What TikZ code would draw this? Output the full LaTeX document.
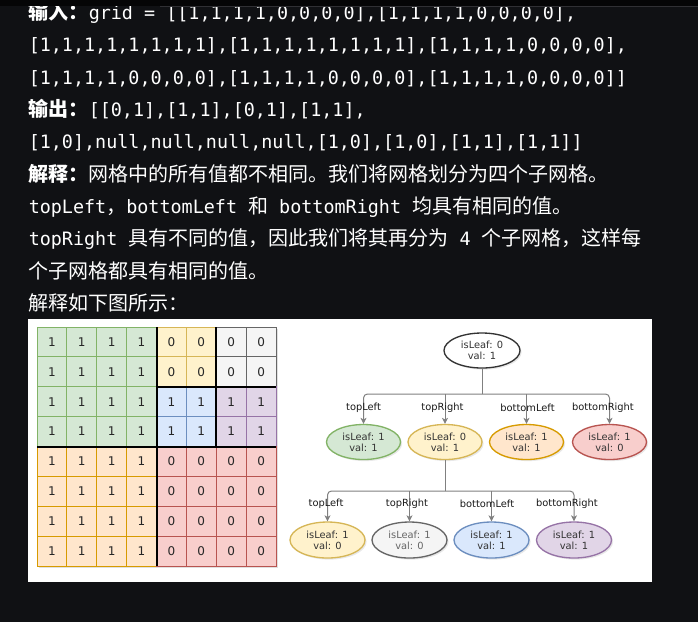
\documentclass[tikz,border=0pt]{standalone}
\usepackage{fontspec}
\setmainfont{Noto Sans CJK SC}
\setmonofont{DejaVu Sans Mono}[Scale=0.92]
\newfontfamily\treefont{DejaVu Sans}
\usetikzlibrary{shapes.geometric,arrows.meta,shadows,positioning}

\definecolor{pagebg}{RGB}{16,17,20}
\definecolor{stripbg}{RGB}{5,5,6}
\definecolor{stripline}{RGB}{48,48,52}
\definecolor{greenfill}{HTML}{D5E8D4}  \definecolor{greenline}{HTML}{82B366}
\definecolor{yellowfill}{HTML}{FFF2CC} \definecolor{yellowline}{HTML}{D6B656}
\definecolor{greyfill}{HTML}{F5F5F5}   \definecolor{greyline}{HTML}{666666}
\definecolor{bluefill}{HTML}{DAE8FC}   \definecolor{blueline}{HTML}{6C8EBF}
\definecolor{purplefill}{HTML}{E1D5E7} \definecolor{purpleline}{HTML}{9673A6}
\definecolor{orangefill}{HTML}{FFE6CC} \definecolor{orangeline}{HTML}{D79B00}
\definecolor{redfill}{HTML}{F8CECC}    \definecolor{redline}{HTML}{B85450}
\definecolor{edgegrey}{HTML}{808080}
\definecolor{nodetext}{HTML}{333333}

\tikzset{
  txtline/.style={anchor=base west, inner sep=0pt, text=white,
    font=\fontsize{15pt}{18pt}\selectfont},
  cell/.style={fill=#1fill, draw=#1line, line width=0.75pt},
  quad/.style={draw=black, line width=1.5pt},
  digit/.style={inner sep=0pt, text=black!85, font=\treefont\fontsize{9pt}{9pt}\selectfont},
  qnode/.style={ellipse, draw=#1line, fill=#1fill, line width=1pt,
    minimum width=55.5pt, minimum height=26.25pt, inner sep=0pt, align=center,
    text=nodetext, font=\treefont\fontsize{7.4pt}{8.25pt}\selectfont,
    drop shadow={shadow xshift=1.2pt, shadow yshift=-1.2pt, opacity=0.18}},
  edge/.style={draw=edgegrey, line width=0.75pt},
  arr/.style={-{Stealth[length=4.5pt, width=4.5pt, inset=1.2pt]}},
  edgelab/.style={inner sep=0pt, text=black!90, font=\treefont\fontsize{7.4pt}{7.4pt}\selectfont},
}

\begin{document}
\begin{tikzpicture}[x=0.75pt, y=-0.75pt]
\useasboundingbox (0,0) rectangle (698,622);
\fill[pagebg] (0,0) rectangle (698,622);

% text above the figure
\node[txtline] (in1) at (28.5,19.3) {{\bfseries 输入：}\texttt{grid = [[1,1,1,1,0,0,0,0],[1,1,1,1,0,0,0,0],}};
\node[txtline] (in2) at (28.5,51.65) {\texttt{[1,1,1,1,1,1,1,1],[1,1,1,1,1,1,1,1],[1,1,1,1,0,0,0,0],}};
\node[txtline] (in3) at (28.5,84) {\texttt{[1,1,1,1,0,0,0,0],[1,1,1,1,0,0,0,0],[1,1,1,1,0,0,0,0]]}};
\node[txtline] (out1) at (28.5,116.35) {{\bfseries 输出：}\texttt{[[0,1],[1,1],[0,1],[1,1],}};
\node[txtline] (out2) at (28.5,148.7) {\texttt{[1,0],null,null,null,null,[1,0],[1,0],[1,1],[1,1]]}};
\node[txtline] (ex1) at (28.5,181.05) {{\bfseries 解释：}网格中的所有值都不相同。我们将网格划分为四个子网格。};
\node[txtline] (ex2) at (28.5,213.4) {\texttt{topLeft}，\texttt{bottomLeft }和\texttt{ bottomRight }均具有相同的值。};
\node[txtline] (ex3) at (28.5,245.75) {\texttt{topRight }具有不同的值，因此我们将其再分为\texttt{ 4 }个子网格，这样每};
\node[txtline] (ex4) at (28.5,278.1) {个子网格都具有相同的值。};
\node[txtline] (ex5) at (28.5,310.45) {解释如下图所示：};

% sticky header strip
\fill[stripbg] (0,0) rectangle (698,6.3);
\draw[stripline, line width=0.75pt] (160,6) -- (698,6);

% white panel
\fill[white] (28,319) rectangle (652,582);

% the grid
\begin{scope}[shift={(37,327)}, x=22.40625pt, y=-22.40625pt]
\fill[black, opacity=0.12] (0.08,0.08) rectangle (8.08,8.08);
\foreach \c in {0,...,3} \foreach \r in {0,...,3} \draw[cell=green] (\c,\r) rectangle ++(1,1);
\foreach \c in {4,5} \foreach \r in {0,1} \draw[cell=yellow] (\c,\r) rectangle ++(1,1);
\foreach \c in {6,7} \foreach \r in {0,1} \draw[cell=grey] (\c,\r) rectangle ++(1,1);
\foreach \c in {4,5} \foreach \r in {2,3} \draw[cell=blue] (\c,\r) rectangle ++(1,1);
\foreach \c in {6,7} \foreach \r in {2,3} \draw[cell=purple] (\c,\r) rectangle ++(1,1);
\foreach \c in {0,...,3} \foreach \r in {4,...,7} \draw[cell=orange] (\c,\r) rectangle ++(1,1);
\foreach \c in {4,...,7} \foreach \r in {4,...,7} \draw[cell=red] (\c,\r) rectangle ++(1,1);
\draw[quad] (4,0) -- (4,8);
\draw[quad] (0,4) -- (8,4);
\draw[quad] (4,2) -- (8,2);
\draw[quad] (6,0) -- (6,4);
\foreach \vals [count=\r from 0] in {{1,1,1,1,0,0,0,0},{1,1,1,1,0,0,0,0},
    {1,1,1,1,1,1,1,1},{1,1,1,1,1,1,1,1},{1,1,1,1,0,0,0,0},
    {1,1,1,1,0,0,0,0},{1,1,1,1,0,0,0,0},{1,1,1,1,0,0,0,0}}
  \foreach \v [count=\c from 0] in \vals
    \node[digit] (d\r\c) at (\c+0.5,\r+0.5) {\v};
\end{scope}

% the quad tree
\node[qnode=grey, draw=black!80, fill=white, minimum width=57pt] (root) at (482,350.5) {isLeaf: 0\\val: 1};
\node[qnode=green] (tl) at (363.5,442) {isLeaf: 1\\val: 1};
\node[qnode=yellow] (tr) at (445,442) {isLeaf: 0\\val: 1};
\node[qnode=orange] (bl) at (526.5,442) {isLeaf: 1\\val: 1};
\node[qnode=red] (br) at (609.5,442) {isLeaf: 1\\val: 0};
\node[qnode=yellow, minimum width=56.25pt, minimum height=27pt] (trtl) at (327.5,540) {isLeaf: 1\\val: 0};
\node[qnode=grey, minimum width=56.25pt, minimum height=27pt, text=black!60] (trtr) at (409.5,540) {isLeaf: 1\\val: 0};
\node[qnode=blue, minimum width=56.25pt, minimum height=27pt] (trbl) at (491.5,540) {isLeaf: 1\\val: 1};
\node[qnode=purple, minimum width=56.25pt, minimum height=27pt] (trbr) at (574,540) {isLeaf: 1\\val: 1};
\coordinate (bus1) at (0,394);
\coordinate (bus2) at (0,491);

\draw[edge] (root) -- (root.south |- bus1);
\draw[edge, arr, rounded corners=3pt] (root.south |- bus1) -| (tl);
\draw[edge, arr, rounded corners=3pt] (root.south |- bus1) -| (br);
\draw[edge, arr] (tr.north |- bus1) -- (tr);
\draw[edge, arr] (bl.north |- bus1) -- (bl);

\draw[edge] (tr) -- (tr.south |- bus2);
\draw[edge, arr, rounded corners=3pt] (tr.south |- bus2) -| (trtl);
\draw[edge, arr, rounded corners=3pt] (tr.south |- bus2) -| (trbr);
\draw[edge, arr] (trtr.north |- bus2) -- (trtr);
\draw[edge, arr] (trbl.north |- bus2) -- (trbl);

\node[edgelab] (ltl) at (363.5,408) {topLeft};
\node[edgelab] (ltr) at (442.5,408) {topRight};
\node[edgelab] (lbl) at (527.5,408) {bottomLeft};
\node[edgelab] (lbr) at (603,408) {bottomRight};
\node[edgelab] (ltrtl) at (326,504) {topLeft};
\node[edgelab] (ltrtr) at (407,504) {topRight};
\node[edgelab] (ltrbl) at (487,504) {bottomLeft};
\node[edgelab] (ltrbr) at (567,504) {bottomRight};
\end{tikzpicture}
\end{document}
